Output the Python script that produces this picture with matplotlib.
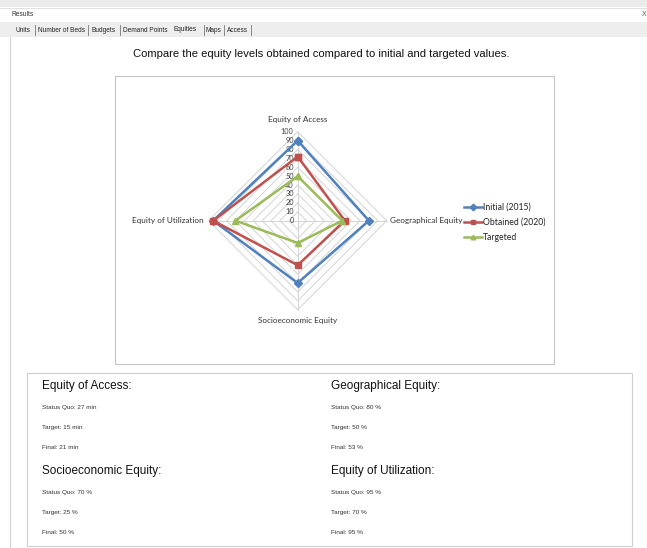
import matplotlib
matplotlib.use("Agg")
import matplotlib.pyplot as plt
import numpy as np
from matplotlib.patches import Rectangle

# ---------------- data ----------------
axis_labels = ["Equity of Access", "Geographical Equity", "Socioeconomic Equity", "Equity of Utilization"]
initial_2015 = [90, 80, 70, 95]
obtained_2020 = [72, 53, 50, 95]
targeted = [50, 50, 25, 70]
series_names = ["Initial (2015)", "Obtained (2020)", "Targeted"]
ring_levels = [0, 10, 20, 30, 40, 50, 60, 70, 80, 90, 100]

tab_names = ["Units", "Number of Beds", "Budgets", "Demand Points", "Equities", "Maps", "Access"]
title_text = "Compare the equity levels obtained compared to initial and targeted values."

summary_headings = ["Equity of Access:", "Geographical Equity:", "Socioeconomic Equity:", "Equity of Utilization:"]
status_quo = ["27 min", "80 %", "70 %", "95 %"]
target_vals = ["15 min", "50 %", "25 %", "70 %"]
final_vals = ["21 min", "53 %", "50 %", "95 %"]

# ---------------- figure ----------------
W, H = 647, 548
fig = plt.figure(figsize=(W / 100, H / 100), dpi=100)
fig.patch.set_facecolor("white")

ui = fig.add_axes([0, 0, 1, 1])
ui.set_xlim(0, W)
ui.set_ylim(H, 0)
ui.axis("off")

UI_FONT = "Liberation Sans"
CH_FONT = "Lato"

# top window bar
ui.add_patch(Rectangle((0, 0), W, 7, facecolor="#ebebeb", edgecolor="none"))
ui.plot([0, W], [7.5, 7.5], color="#dcdcdc", lw=0.6)
ui.text(11, 15, "Results", fontsize=4.8, family=UI_FONT, color="#333333", va="center", ha="left")
ui.text(642, 15, "X", fontsize=5, family=UI_FONT, color="#555555", va="center", ha="left")

# tab strip
ui.add_patch(Rectangle((0, 22), W, 15, facecolor="#eeeeee", edgecolor="none"))
tab_x = [15, 38, 91, 123, 173, 206, 227]
sep_x = [35, 88, 120, 204, 224, 251]
for name, x in zip(tab_names, tab_x):
    yy = 29.3 if name == "Equities" else 30
    ui.text(x, yy, name, fontsize=4.7, family=UI_FONT, color="#222222", va="center", ha="left")
for x in sep_x:
    ui.plot([x, x], [25, 35], color="#777777", lw=0.6)

# left border of content panel
ui.plot([10, 10], [37, H], color="#d4d4d4", lw=0.8)

# title
ui.text(321, 54, title_text, fontsize=8.1, family=UI_FONT, color="#111111", va="center", ha="center")

# chart box
ui.add_patch(Rectangle((114.5, 76), 439.5, 288, facecolor="white", edgecolor="#c4c4c4", lw=0.8))

# summary box
ui.add_patch(Rectangle((27, 373), 604.5, 173, facecolor="white", edgecolor="#cfcfcf", lw=0.8))
col_x = [42, 331, 42, 331]
head_y = [386, 386, 471, 471]
for i in range(4):
    x, y = col_x[i], head_y[i]
    ui.text(x, y, summary_headings[i], fontsize=8.5, family=UI_FONT, color="#111111", va="center", ha="left")
    ui.text(x, y + 21.5, "Status Quo: " + status_quo[i], fontsize=4.6, family=UI_FONT, color="#333333", va="center", ha="left")
    ui.text(x, y + 41.5, "Target: " + target_vals[i], fontsize=4.6, family=UI_FONT, color="#333333", va="center", ha="left")
    ui.text(x, y + 61.5, "Final: " + final_vals[i], fontsize=4.6, family=UI_FONT, color="#333333", va="center", ha="left")

# ---------------- radar ----------------
cx, cy = 297.7, 220.7     # centre in pixels
px_per_unit = 0.89        # pixels per value unit
half = 125                # half-size of radar axes in pixels
lim = half / px_per_unit
ax = fig.add_axes([(cx - half) / W, (H - cy - half) / H, 2 * half / W, 2 * half / H])
ax.set_xlim(-lim, lim)
ax.set_ylim(-lim, lim)
ax.set_aspect("equal")
ax.axis("off")

n = len(axis_labels)
angles = np.pi / 2 - np.arange(n) * 2 * np.pi / n
ca, sa = np.cos(angles), np.sin(angles)

grid_color = "#d4d4d4"
for r in ring_levels[1:]:
    xs = np.append(r * ca, r * ca[0])
    ys = np.append(r * sa, r * sa[0])
    ax.plot(xs, ys, color=grid_color, lw=0.7, zorder=1)
for i in range(n):
    ax.plot([0, 100 * ca[i]], [0, 100 * sa[i]], color=grid_color, lw=0.7, zorder=1)

for r in ring_levels:
    ax.text(-4.5, r, str(r), fontsize=5.3, family=CH_FONT, color="#444444", ha="right", va="center")

series = [initial_2015, obtained_2020, targeted]
colors = ["#4F81BD", "#C0504D", "#9BBB59"]
markers = ["D", "s", "^"]
handles = []
for vals, col, mk, name in zip(series, colors, markers, series_names):
    v = np.array(vals, dtype=float)
    xs = np.append(v * ca, v[0] * ca[0])
    ys = np.append(v * sa, v[0] * sa[0])
    ln, = ax.plot(xs, ys, color=col, lw=1.8, marker=mk, markersize=4.2,
                  markeredgecolor=col, markerfacecolor=col, zorder=3, label=name)
    handles.append(ln)

lab_fs = 5.9
ax.text(0, 114, axis_labels[0], fontsize=lab_fs, family=CH_FONT, color="#333333", ha="center", va="center")
ax.text(104, 0, axis_labels[1], fontsize=lab_fs, family=CH_FONT, color="#333333", ha="left", va="center")
ax.text(0, -112, axis_labels[2], fontsize=lab_fs, family=CH_FONT, color="#333333", ha="center", va="center")
ax.text(-106, 0, axis_labels[3], fontsize=lab_fs, family=CH_FONT, color="#333333", ha="right", va="center")

leg_fs = 6.2
leg = fig.legend(handles=handles, labels=series_names, loc="center left",
                 bbox_to_anchor=(463.5 / W, 1 - 222.5 / H), frameon=False,
                 prop={"family": CH_FONT, "size": leg_fs},
                 handlelength=2.1, handletextpad=0.2, labelspacing=0.75,
                 borderpad=0, borderaxespad=0, markerscale=0.8)
for t in leg.get_texts():
    t.set_color("#222222")

fig.savefig("out.png", dpi=100, facecolor="white")
